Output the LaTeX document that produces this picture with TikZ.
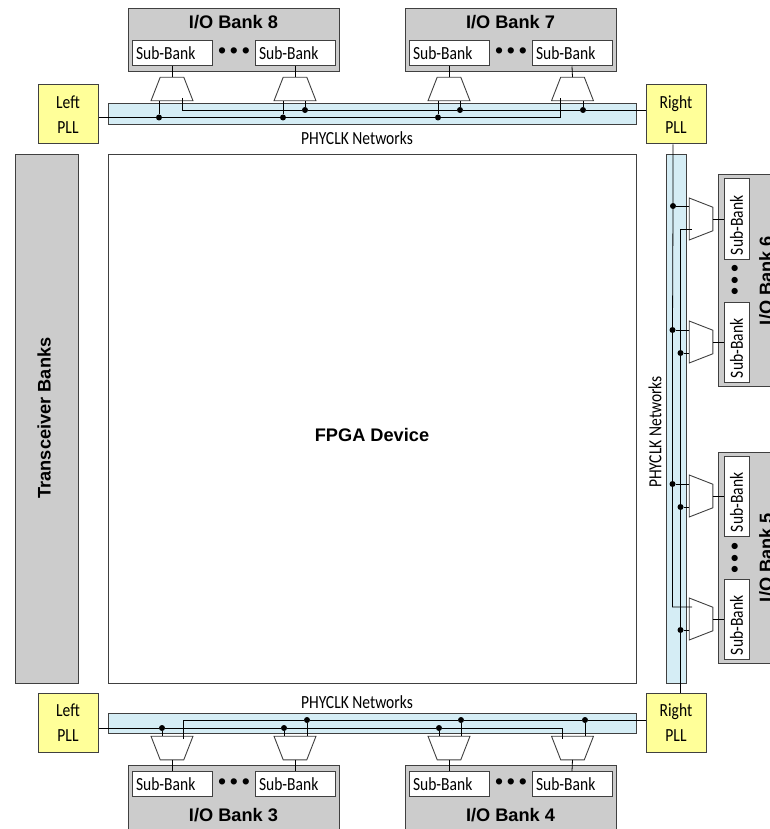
\documentclass[tikz,border=0pt]{standalone}
\usepackage{fontspec}
\setmainfont{Liberation Sans}
\newfontfamily\condfont[FakeStretch=0.84]{Carlito}
\usetikzlibrary{shapes,positioning,calc}
\definecolor{bankgray}{HTML}{CCCCCC}
\definecolor{railblue}{HTML}{D5EDF5}
\definecolor{pllyellow}{HTML}{FFFF99}
\definecolor{edgegray}{HTML}{404040}

\begin{document}
\begin{tikzpicture}[
    x=1pt, y=-1pt,
    bank/.style={rectangle, draw=edgegray, fill=bankgray, line width=1pt, inner sep=0pt, minimum width=211pt, minimum height=63pt},
    sidebank/.style={bank, minimum width=63pt, minimum height=211pt},
    banktitle/.style={inner sep=0pt, font=\fontsize{18.2}{20}\bfseries\selectfont},
    subbank/.style={rectangle, draw=edgegray, fill=white, line width=1pt, text width=72pt, inner xsep=4pt, inner ysep=0pt, minimum height=25pt, align=left, font=\fontsize{18.5}{20}\condfont},
    bullets/.style={inner sep=0pt, font=\fontsize{23}{24}\selectfont},
    pll/.style={rectangle, draw=edgegray, fill=pllyellow, line width=1pt, inner sep=0pt, minimum width=60pt, minimum height=59pt, align=center, font=\fontsize{18.5}{25}\condfont},
    rail/.style={rectangle, draw=edgegray, fill=railblue, line width=1pt, inner sep=0pt},
    mux/.style={trapezium, trapezium left angle=68.7, trapezium right angle=68.7, draw=edgegray, fill=white, line width=0.9pt, inner sep=1pt, outer sep=0pt, minimum width=42pt, minimum height=18pt},
    tap/.style={circle, fill=black, inner sep=0pt, minimum size=6pt},
    wire/.style={black, line width=0.8pt},
    netlabel/.style={inner sep=0pt, font=\fontsize{18.5}{20}\condfont}
]
\useasboundingbox (0,0) rectangle (769,829);

% core and transceivers
\node[bank, minimum width=63pt, minimum height=528pt] (xcvr) at (46.5,419) {};
\node[banktitle, rotate=90] (xcvrtext) at (44,418) {Transceiver Banks};
\node[rectangle, draw=edgegray, fill=white, line width=1pt, minimum width=528pt, minimum height=528pt, inner sep=0pt] (fpga) at (372,419) {};
\node[banktitle] (fpgatext) at (372,435) {FPGA Device};

% clock rails
\node[rail, minimum width=528pt, minimum height=21pt] (railt) at (372,114.5) {};
\node[rail, minimum width=528pt, minimum height=20pt] (railb) at (372,723) {};
\node[rail, minimum width=20pt, minimum height=528pt] (railr) at (676.5,419) {};
\node[netlabel] (nett) at (357,138) {PHYCLK Networks};
\node[netlabel] (netb) at (357,702) {PHYCLK Networks};
\node[netlabel, rotate=90] (netr) at (655,432) {PHYCLK Networks};

% PLLs
\node[pll] (lpllt) at (68,114.5) {Left\\PLL};
\node[pll] (rpllt) at (676,114.5) {Right\\PLL};
\node[pll] (lpllb) at (68,723) {Left\\PLL};
\node[pll] (rpllb) at (676,723) {Right\\PLL};

% banks along the top
\node[bank] (bank8) at (233.5,40.5) {};
\node[banktitle] (title8) at (233.5,22) {I/O Bank 8};
\node[subbank] (sub8a) at (172,53.5) {Sub-Bank};
\node[subbank] (sub8b) at (295,53.5) {Sub-Bank};
\node[bullets] (dots8) at (234,53) {•\,•\,•};
\node[bank] (bank7) at (510.5,40.5) {};
\node[banktitle] (title7) at (510.5,22) {I/O Bank 7};
\node[subbank] (sub7a) at (449,53.5) {Sub-Bank};
\node[subbank] (sub7b) at (572,53.5) {Sub-Bank};
\node[bullets] (dots7) at (511,53) {•\,•\,•};

% banks along the bottom
\node[bank, minimum height=66pt] (bank3) at (233.5,798) {};
\node[banktitle] (title3) at (233.5,815) {I/O Bank 3};
\node[subbank] (sub3a) at (172,784) {Sub-Bank};
\node[subbank] (sub3b) at (295,784) {Sub-Bank};
\node[bullets] (dots3) at (234,784) {•\,•\,•};
\node[bank, minimum height=66pt] (bank4) at (510.5,798) {};
\node[banktitle] (title4) at (510.5,815) {I/O Bank 4};
\node[subbank] (sub4a) at (449,784) {Sub-Bank};
\node[subbank] (sub4b) at (572,784) {Sub-Bank};
\node[bullets] (dots4) at (511,784) {•\,•\,•};

% banks on the right
\node[sidebank] (bank6) at (749.5,280.5) {};
\node[banktitle, rotate=90] (title6) at (766,280.5) {I/O Bank 6};
\node[subbank, rotate=90] (sub6a) at (736.5,219) {Sub-Bank};
\node[subbank, rotate=90] (sub6b) at (736.5,342) {Sub-Bank};
\node[bullets, rotate=90] (dots6) at (737,280) {•\,•\,•};
\node[sidebank] (bank5) at (749.5,557.5) {};
\node[banktitle, rotate=90] (title5) at (766,557.5) {I/O Bank 5};
\node[subbank, rotate=90] (sub5a) at (736.5,496) {Sub-Bank};
\node[subbank, rotate=90] (sub5b) at (736.5,619) {Sub-Bank};
\node[bullets, rotate=90] (dots5) at (737,558) {•\,•\,•};

% muxes
\node[mux] (mux8a) at (172,89) {};
\node[mux] (mux8b) at (295,89) {};
\node[mux] (mux7a) at (449,89) {};
\node[mux] (mux7b) at (572.5,89) {};
\node[mux, rotate=180] (mux3a) at (172,748) {};
\node[mux, rotate=180] (mux3b) at (295,748) {};
\node[mux, rotate=180] (mux4a) at (449,748) {};
\node[mux, rotate=180] (mux4b) at (572.5,748) {};
\node[mux, rotate=-90] (mux6a) at (701,219) {};
\node[mux, rotate=-90] (mux6b) at (701,342) {};
\node[mux, rotate=-90] (mux5a) at (701,496) {};
\node[mux, rotate=-90] (mux5b) at (701,619) {};

% mux to sub-bank
\draw[wire] (mux8a.north) -- (sub8a.south);
\draw[wire] (mux8b.north) -- (sub8b.south);
\draw[wire] (mux7a.north) -- (sub7a.south);
\draw[wire] (mux7b.north) -- (sub7b.south);
\draw[wire] (mux3a.north) -- (sub3a.north);
\draw[wire] (mux3b.north) -- (sub3b.north);
\draw[wire] (mux4a.north) -- (sub4a.north);
\draw[wire] (mux4b.north) -- (sub4b.north);
\draw[wire] (mux6a.north) -- (sub6a.north);
\draw[wire] (mux6b.north) -- (sub6b.north);
\draw[wire] (mux5a.north) -- (sub5a.north);
\draw[wire] (mux5b.north) -- (sub5b.north);

% top rail
\node[tap] (tap8a) at (159,117.5) {};
\node[tap] (tap8b) at (283,117.5) {};
\node[tap] (tap8c) at (305,110) {};
\node[tap] (tap7a) at (438,117.5) {};
\node[tap] (tap7b) at (460,110) {};
\node[tap] (tap7c) at (583,110) {};
\coordinate (legt1) at (182.5,98);
\coordinate (legt2) at (560.5,98);
\draw[wire] (lpllt.east |- tap8a) -- (tap8a) -- (tap8b) -- (tap7a) -| (legt2);
\draw[wire] (legt1) |- (tap8c) -- (tap7b) -- (tap7c) -- (rpllt.west |- tap7c);
\draw[wire] (tap8a) -- (tap8a |- mux8a.south);
\draw[wire] (tap8b) -- (tap8b |- mux8b.south);
\draw[wire] (tap8c) -- (tap8c |- mux8b.south);
\draw[wire] (tap7a) -- (tap7a |- mux7a.south);
\draw[wire] (tap7b) -- (tap7b |- mux7a.south);
\draw[wire] (tap7c) -- (tap7c |- mux7b.south);

% bottom rail
\node[tap] (tap3a) at (162,728) {};
\node[tap] (tap3b) at (284,728) {};
\node[tap] (tap3c) at (307,720) {};
\node[tap] (tap4a) at (439,728) {};
\node[tap] (tap4b) at (461,720) {};
\node[tap] (tap4c) at (585,720) {};
\coordinate (legb1) at (183.5,739);
\coordinate (legb2) at (562,739);
\draw[wire] (lpllb.east |- tap3a) -- (tap3a) -- (tap3b) -- (tap4a) -| (legb2);
\draw[wire] (legb1) |- (tap3c) -- (tap4b) -- (tap4c) -- (rpllb.west |- tap4c);
\draw[wire] (tap3a) -- (tap3a |- mux3a.south);
\draw[wire] (tap3b) -- (tap3b |- mux3b.south);
\draw[wire] (tap3c) -- (tap3c |- mux3b.south);
\draw[wire] (tap4a) -- (tap4a |- mux4a.south);
\draw[wire] (tap4b) -- (tap4b |- mux4a.south);
\draw[wire] (tap4c) -- (tap4c |- mux4b.south);

% right rail
\node[tap] (tap6a) at (673,206) {};
\node[tap] (tap6b) at (672.5,330) {};
\node[tap] (tap6c) at (680.5,353) {};
\node[tap] (tap5a) at (672.5,484) {};
\node[tap] (tap5b) at (680.5,507) {};
\node[tap] (tap5c) at (680.5,630) {};
\coordinate (legr1) at (692,229);
\coordinate (legr2) at (692,607);
\draw[wire] (tap6a |- rpllt.south) -- (tap6a) -- (tap6b) -- (tap5a) |- (legr2);
\draw[wire] (legr1) -| (tap6c) -- (tap5b) -- (tap5c) -- (tap5c |- rpllb.north);
\draw[wire] (tap6a) -- (tap6a -| mux6a.south);
\draw[wire] (tap6b) -- (tap6b -| mux6b.south);
\draw[wire] (tap6c) -- (tap6c -| mux6b.south);
\draw[wire] (tap5a) -- (tap5a -| mux5a.south);
\draw[wire] (tap5b) -- (tap5b -| mux5a.south);
\draw[wire] (tap5c) -- (tap5c -| mux5b.south);
\end{tikzpicture}
\end{document}
